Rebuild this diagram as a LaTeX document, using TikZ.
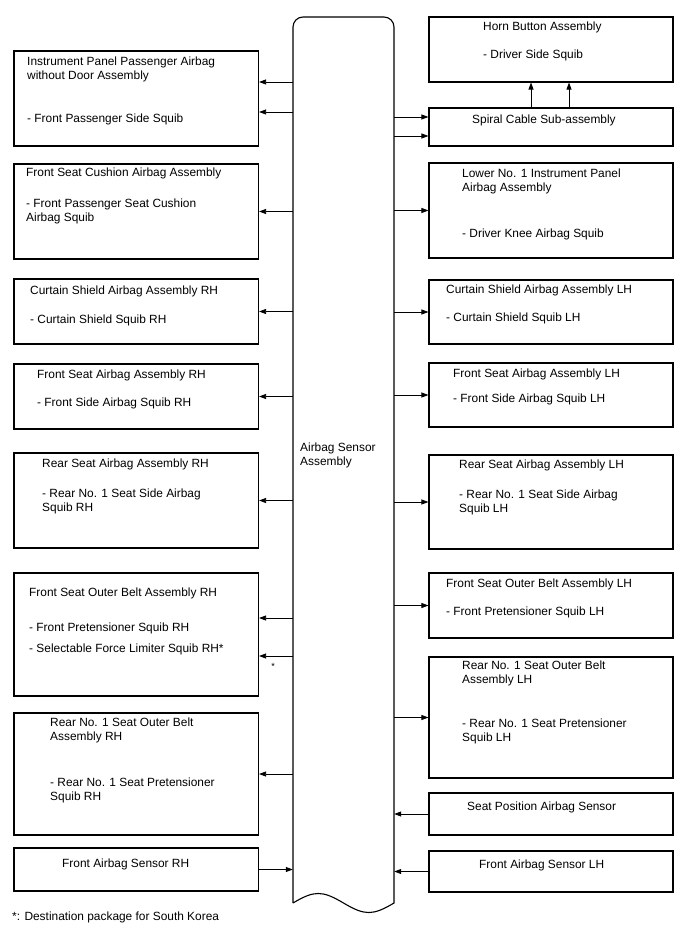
\documentclass[tikz,border=0pt]{standalone}
\usepackage{fontspec}
\setmainfont{Liberation Sans}
\usetikzlibrary{arrows.meta, fit, positioning}

\begin{document}
\begin{tikzpicture}[x=1pt, y=-1pt,
    box/.style={draw, line width=1.1pt, inner sep=0pt},
    lbl/.style={anchor=north west, align=left, inner sep=0pt, font=\fontsize{11.9}{13.3}\selectfont},
    arr/.style={-{Triangle[length=7pt,width=5pt]}, line width=0.8pt}]
    \useasboundingbox (0,0) rectangle (688,949);

    % Steuergeraet in der Mitte
    \node[inner sep=0pt, fit={(293,17) (394,903)}] (asm) {};
    \draw[line width=1.1pt] (293,903) -- (293,27) .. controls (293,21.5) and (297.5,17) .. (303,17)
        -- (384,17) .. controls (389.5,17) and (394,21.5) .. (394,27) -- (394,903)
        .. controls (372.6,915.7) and (364.9,915.7) .. (343.5,903)
        .. controls (322.1,890.3) and (314.4,890.3) .. (293,903);
    \node[lbl] (asm-t) at (300,443) {Airbag Sensor\\Assembly};

    % linke Seite
    \node[box, fit={(14,51) (258.5,146)}] (ipp) {};
    \node[box, fit={(14,164) (258.5,259)}] (fscush) {};
    \node[box, fit={(14,279) (258.5,344)}] (csrh) {};
    \node[box, fit={(14,364) (258.5,429)}] (fsarh) {};
    \node[box, fit={(14,453) (258.5,548)}] (rsarh) {};
    \node[box, fit={(14,573) (258.5,696)}] (fsobrh) {};
    \node[box, fit={(14,713) (258.5,835)}] (robrh) {};
    \node[box, fit={(14,848) (258.5,891)}] (fasrh) {};

    \node[lbl] (ipp-t) at (27,57) {Instrument Panel Passenger Airbag\\without Door Assembly\\[30.4pt]- Front Passenger Side Squib};
    \node[lbl] (fscush-t) at (26,168) {Front Seat Cushion Airbag Assembly\\[17.7pt]- Front Passenger Seat Cushion\\Airbag Squib};
    \node[lbl] (csrh-t) at (30,286) {Curtain Shield Airbag Assembly RH\\[15.7pt]- Curtain Shield Squib RH};
    \node[lbl] (fsarh-t) at (37,370) {Front Seat Airbag Assembly RH\\[14.7pt]- Front Side Airbag Squib RH};
    \node[lbl] (rsarh-t) at (42,459) {Rear Seat Airbag Assembly RH\\[16.7pt]- Rear No. 1 Seat Side Airbag\\Squib RH};
    \node[lbl] (fsobrh-t) at (29,588) {Front Seat Outer Belt Assembly RH\\[21.7pt]- Front Pretensioner Squib RH\\[7.7pt]- Selectable Force Limiter Squib RH*};
    \node[lbl] (robrh-t) at (50,718) {Rear No. 1 Seat Outer Belt\\Assembly RH\\[33.4pt]- Rear No. 1 Seat Pretensioner\\Squib RH};
    \node[lbl] (fasrh-t) at (62,859) {Front Airbag Sensor RH};

    % rechte Seite
    \node[box, fit={(429,17) (673,82)}] (horn) {};
    \node[box, fit={(429,108) (673,146)}] (spiral) {};
    \node[box, fit={(429,163) (673,258)}] (lipa) {};
    \node[box, fit={(429,280) (673,344)}] (cslh) {};
    \node[box, fit={(429,363) (673,427)}] (fsalh) {};
    \node[box, fit={(429,455) (673,549)}] (rsalh) {};
    \node[box, fit={(429,573) (673,638)}] (fsoblh) {};
    \node[box, fit={(429,657) (673,778)}] (roblh) {};
    \node[box, fit={(429,793) (673,835)}] (spas) {};
    \node[box, fit={(429,851) (673,892)}] (faslh) {};

    \node[lbl] (horn-t) at (483,22) {Horn Button Assembly\\[14.7pt]- Driver Side Squib};
    \node[lbl] (spiral-t) at (472,115) {Spiral Cable Sub-assembly};
    \node[lbl] (lipa-t) at (462,169) {Lower No. 1 Instrument Panel\\Airbag Assembly\\[33.4pt]- Driver Knee Airbag Squib};
    \node[lbl] (cslh-t) at (446,285) {Curtain Shield Airbag Assembly LH\\[14.7pt]- Curtain Shield Squib LH};
    \node[lbl] (fsalh-t) at (453,369) {Front Seat Airbag Assembly LH\\[11.7pt]- Front Side Airbag Squib LH};
    \node[lbl] (rsalh-t) at (459,460) {Rear Seat Airbag Assembly LH\\[16.7pt]- Rear No. 1 Seat Side Airbag\\Squib LH};
    \node[lbl] (fsoblh-t) at (446,579) {Front Seat Outer Belt Assembly LH\\[14.7pt]- Front Pretensioner Squib LH};
    \node[lbl] (roblh-t) at (462,661) {Rear No. 1 Seat Outer Belt\\Assembly LH\\[31.4pt]- Rear No. 1 Seat Pretensioner\\Squib LH};
    \node[lbl] (spas-t) at (467,802) {Seat Position Airbag Sensor};
    \node[lbl] (faslh-t) at (479,860) {Front Airbag Sensor LH};

    % Pfeile links
    \coordinate (ipp-a1) at ([yshift=16.5pt]ipp.east);
    \coordinate (ipp-a2) at ([yshift=-13.5pt]ipp.east);
    \coordinate (fsobrh-a1) at ([yshift=16.5pt]fsobrh.east);
    \coordinate (fsobrh-a2) at ([yshift=-21.5pt]fsobrh.east);
    \draw[arr] (asm.west |- ipp-a1) -- (ipp-a1);
    \draw[arr] (asm.west |- ipp-a2) -- (ipp-a2);
    \draw[arr] (asm.west |- fscush.east) -- (fscush.east);
    \draw[arr] (asm.west |- csrh.east) -- (csrh.east);
    \draw[arr] (asm.west |- fsarh.east) -- (fsarh.east);
    \draw[arr] (asm.west |- rsarh.east) -- (rsarh.east);
    \draw[arr] (asm.west |- fsobrh-a1) -- (fsobrh-a1);
    \draw[arr] (asm.west |- fsobrh-a2) -- (fsobrh-a2);
    \draw[arr] (asm.west |- robrh.east) -- (robrh.east);
    \draw[arr] (fasrh.east) -- (asm.west |- fasrh.east);
    \node[font=\fontsize{9}{10}\selectfont, inner sep=0pt] (star) at (273,666) {*};

    % Pfeile rechts
    \coordinate (spiral-a1) at ([yshift=10pt]spiral.west);
    \coordinate (spiral-a2) at ([yshift=-9pt]spiral.west);
    \coordinate (spiral-u1) at ([xshift=-20pt]spiral.north);
    \coordinate (spiral-u2) at ([xshift=18pt]spiral.north);
    \draw[arr] (asm.east |- spiral-a1) -- (spiral-a1);
    \draw[arr] (asm.east |- spiral-a2) -- (spiral-a2);
    \draw[arr] (spiral-u1) -- (spiral-u1 |- horn.south);
    \draw[arr] (spiral-u2) -- (spiral-u2 |- horn.south);
    \draw[arr] (asm.east |- lipa.west) -- (lipa.west);
    \draw[arr] (asm.east |- cslh.west) -- (cslh.west);
    \draw[arr] (asm.east |- fsalh.west) -- (fsalh.west);
    \draw[arr] (asm.east |- rsalh.west) -- (rsalh.west);
    \draw[arr] (asm.east |- fsoblh.west) -- (fsoblh.west);
    \draw[arr] (asm.east |- roblh.west) -- (roblh.west);
    \draw[arr] (spas.west) -- (asm.east |- spas.west);
    \draw[arr] (faslh.west) -- (asm.east |- faslh.west);

    \node[lbl] (note) at (12,912) {*: Destination package for South Korea};
\end{tikzpicture}
\end{document}
